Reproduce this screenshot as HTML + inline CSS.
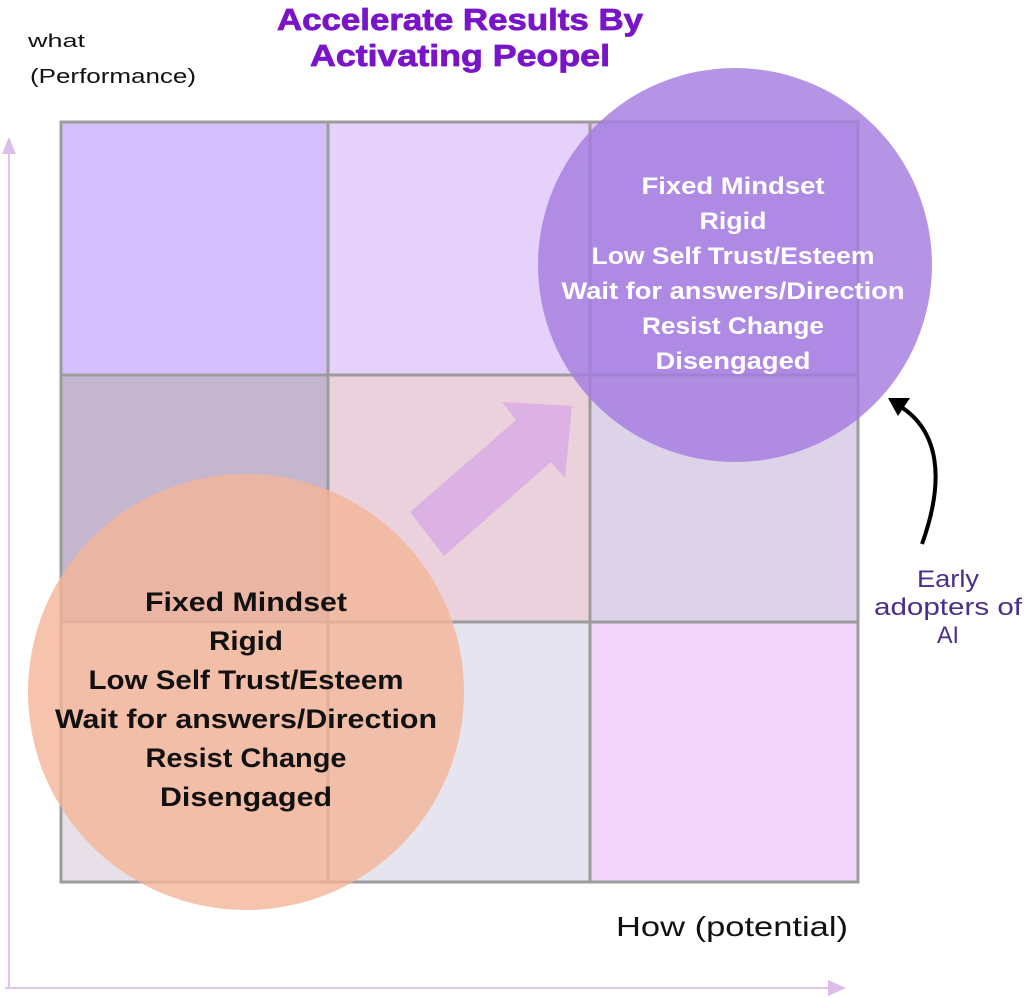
<!DOCTYPE html>
<html><head><meta charset="utf-8"><style>html,body{margin:0;padding:0;background:#fff;width:1024px;height:998px;overflow:hidden}</style></head>
<body>
<svg width="1024" height="998" viewBox="0 0 1024 998" xmlns="http://www.w3.org/2000/svg" font-family="Liberation Sans, sans-serif">
<rect width="1024" height="998" fill="#fff"/>
<text x="460" y="30" text-anchor="middle" font-size="31" font-weight="bold" fill="#7a14c8" stroke="#7a14c8" stroke-width="0.8" textLength="366" lengthAdjust="spacingAndGlyphs">Accelerate Results By</text>
<text x="460" y="66" text-anchor="middle" font-size="31" font-weight="bold" fill="#7a14c8" stroke="#7a14c8" stroke-width="0.8" textLength="300" lengthAdjust="spacingAndGlyphs">Activating Peopel</text>
<text x="28" y="47" font-size="18" fill="#111" textLength="57" lengthAdjust="spacingAndGlyphs">what</text>
<text x="30" y="83" font-size="20" fill="#111" textLength="166" lengthAdjust="spacingAndGlyphs">(Performance)</text>
<line x1="9" y1="150" x2="9" y2="988" stroke="#e0c4ee" stroke-width="2"/>
<polygon points="9,137 2,154 16,154" fill="#dcbde9"/>
<line x1="5" y1="988" x2="830" y2="988" stroke="#e0c4ee" stroke-width="2"/>
<polygon points="846,988 828,980 828,996" fill="#dcbde9"/>
<rect x="61" y="122" width="267" height="253" fill="#d3bffc"/>
<rect x="328" y="122" width="262" height="253" fill="#e6d0fc"/>
<rect x="590" y="122" width="268" height="253" fill="#dcc8f6"/>
<rect x="61" y="375" width="267" height="247" fill="#c4b6cf"/>
<rect x="328" y="375" width="262" height="247" fill="#ead1dc"/>
<rect x="590" y="375" width="268" height="247" fill="#dcd3e9"/>
<rect x="61" y="622" width="267" height="260" fill="#e8e0e8"/>
<rect x="328" y="622" width="262" height="260" fill="#e6e4ef"/>
<rect x="590" y="622" width="268" height="260" fill="#f1d4f8"/>
<g stroke="#9c9c9c" stroke-width="3" fill="none">
<rect x="61" y="122" width="797" height="760"/>
<line x1="328" y1="122" x2="328" y2="882"/>
<line x1="590" y1="122" x2="590" y2="882"/>
<line x1="61" y1="375" x2="858" y2="375"/>
<line x1="61" y1="622" x2="858" y2="622"/>
</g>
<polygon points="410,512 516,420 502,402 572,406 565,478 551,462 444,556" fill="#dbb2e3"/>
<circle cx="735" cy="265" r="197" fill="#a57ddf" fill-opacity="0.82"/>
<circle cx="246" cy="692" r="218" fill="#f4b597" fill-opacity="0.8"/>
<g font-weight="bold" fill="#fff" font-size="24" text-anchor="middle">
<text x="733" y="194" textLength="183" lengthAdjust="spacingAndGlyphs">Fixed Mindset</text>
<text x="733" y="229" textLength="67" lengthAdjust="spacingAndGlyphs">Rigid</text>
<text x="733" y="264" textLength="283" lengthAdjust="spacingAndGlyphs">Low Self Trust/Esteem</text>
<text x="733" y="299" textLength="343" lengthAdjust="spacingAndGlyphs">Wait for answers/Direction</text>
<text x="733" y="334" textLength="182" lengthAdjust="spacingAndGlyphs">Resist Change</text>
<text x="733" y="369" textLength="155" lengthAdjust="spacingAndGlyphs">Disengaged</text>
</g>
<g font-weight="bold" fill="#111" font-size="27" text-anchor="middle">
<text x="246" y="611" textLength="202" lengthAdjust="spacingAndGlyphs">Fixed Mindset</text>
<text x="246" y="650" textLength="74" lengthAdjust="spacingAndGlyphs">Rigid</text>
<text x="246" y="689" textLength="315" lengthAdjust="spacingAndGlyphs">Low Self Trust/Esteem</text>
<text x="246" y="728" textLength="382" lengthAdjust="spacingAndGlyphs">Wait for answers/Direction</text>
<text x="246" y="767" textLength="201" lengthAdjust="spacingAndGlyphs">Resist Change</text>
<text x="246" y="806" textLength="172" lengthAdjust="spacingAndGlyphs">Disengaged</text>
</g>
<path d="M922,544 C945,480 940,430 898,405" stroke="#000" stroke-width="4" fill="none"/>
<polygon points="888,398 910,398 898,416" fill="#000"/>
<g fill="#4b2d8a" font-size="24" text-anchor="middle">
<text x="948" y="587" textLength="62" lengthAdjust="spacingAndGlyphs">Early</text>
<text x="948" y="615" textLength="148" lengthAdjust="spacingAndGlyphs">adopters of</text>
<text x="948" y="643" textLength="22" lengthAdjust="spacingAndGlyphs">AI</text>
</g>
<text x="732" y="936" text-anchor="middle" font-size="28" fill="#111" textLength="232" lengthAdjust="spacingAndGlyphs">How (potential)</text>
</svg>
</body></html>
